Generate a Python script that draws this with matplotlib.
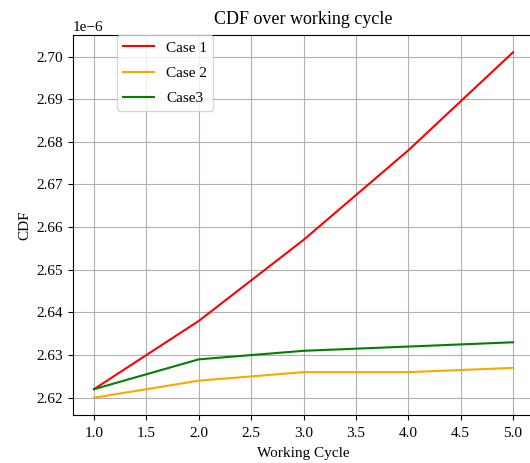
import matplotlib.pyplot as plt

plt.rcParams['font.family'] = ['Liberation Serif', 'DejaVu Serif']
plt.rcParams['axes.formatter.use_mathtext'] = False

cycles = [1.0, 2.0, 3.0, 4.0, 5.0]
case1 = [2.622e-6, 2.638e-6, 2.657e-6, 2.678e-6, 2.701e-6]
case2 = [2.620e-6, 2.624e-6, 2.626e-6, 2.626e-6, 2.627e-6]
case3 = [2.622e-6, 2.629e-6, 2.631e-6, 2.632e-6, 2.633e-6]

fig = plt.figure(figsize=(5.3, 4.63), dpi=100)
ax = fig.add_axes([73 / 530, 48 / 463, 461 / 530, 380 / 463])

ax.plot(cycles, case1, color='red', lw=1.5, label='Case 1')
ax.plot(cycles, case2, color='orange', lw=1.5, label='Case 2')
ax.plot(cycles, case3, color='green', lw=1.5, label='Case3')

ax.set_title('CDF over working cycle', fontsize=13, pad=8)
ax.set_xlabel('Working Cycle', fontsize=11, labelpad=5)
ax.set_ylabel('CDF', fontsize=11)
ax.tick_params(labelsize=11)
ax.tick_params(axis='x', pad=5)
ax.yaxis.get_offset_text().set_fontsize(11)
ax.grid(True)

ax.legend(loc='upper left', bbox_to_anchor=(117 / 530, 1 - 35 / 463),
          bbox_transform=fig.transFigure, borderaxespad=0, fontsize=11,
          labelspacing=0.75)

fig.savefig('out.png', dpi=100)
